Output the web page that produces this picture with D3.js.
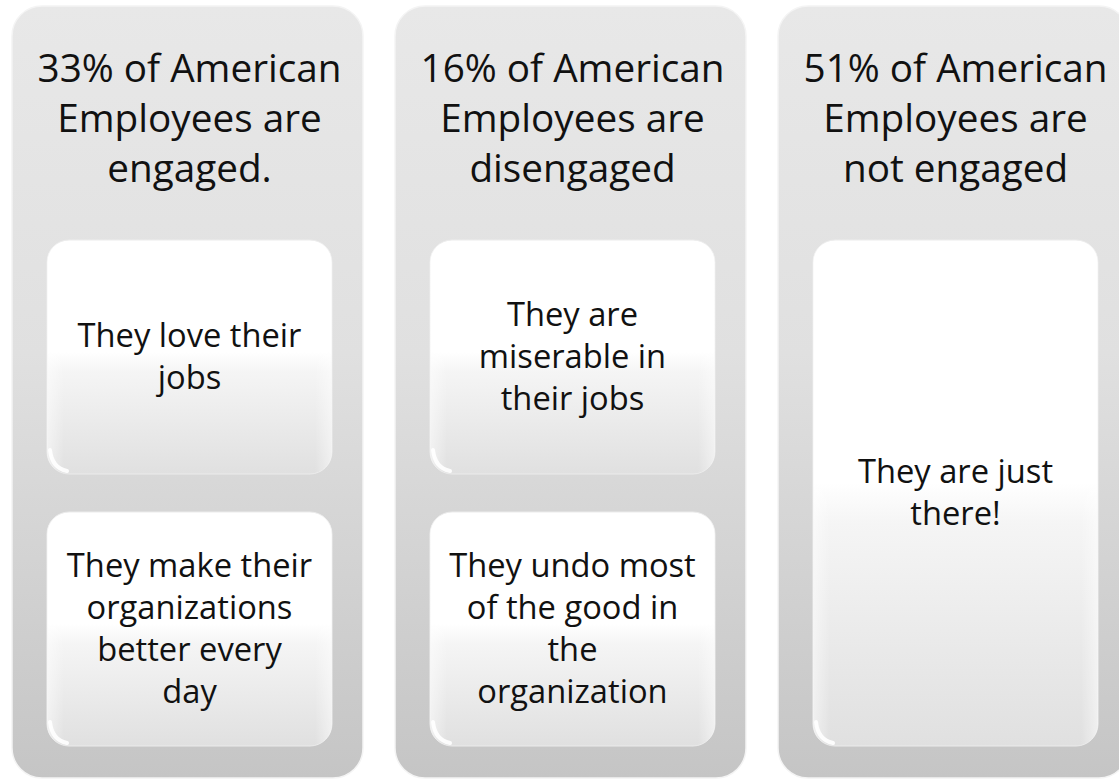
<!DOCTYPE html>
<html>
<head>
<meta charset="utf-8">
<script src="https://cdn.jsdelivr.net/npm/d3@7"></script>
<style>
  body { margin: 0; background: #ffffff; }
  svg { display: block; }
  .txt { font-family: "Open Sans", "Noto Sans", sans-serif; fill: #111111; }
</style>
</head>
<body>
<svg id="chart"></svg>
<script>
// share of employees per group
const percents = [33, 16, 51];
const headings = [
    ["33% of American", "Employees are", "engaged."],
    ["16% of American", "Employees are", "disengaged"],
    ["51% of American", "Employees are", "not engaged"]
];
// inner boxes (the last column has one tall box)
const details = [
    [["They love their", "jobs"], ["They make their", "organizations", "better every", "day"]],
    [["They are", "miserable in", "their jobs"], ["They undo most", "of the good in", "the", "organization"]],
    [["They are just", "there!"]]
];

const width = 1119, height = 780;
const svg = d3.select('#chart').attr('width', width).attr('height', height);
const defs = svg.append('defs');

// pick font sizes so that the widest reference lines keep about their width
function fitSize(str, target) {
    let t = svg.append('text').attr('class', 'txt').style('font-size', '100px').text(str);
    let w = t.node().getComputedTextLength();
    t.remove();
    return 100 * target / w;
}
const headSize = fitSize("33% of American", 304);
const bodySize = fitSize("They love their", 224);

let og = defs.append('linearGradient').attr('id', 'outerGrad')
    .attr('x1', 0).attr('y1', 0).attr('x2', 0).attr('y2', 1);
og.append('stop').attr('offset', '0%').attr('stop-color', '#e8e8e8');
og.append('stop').attr('offset', '45%').attr('stop-color', '#e0e0e0');
og.append('stop').attr('offset', '100%').attr('stop-color', '#c5c5c5');

let ig = defs.append('linearGradient').attr('id', 'innerGrad')
    .attr('x1', 0).attr('y1', 0).attr('x2', 0).attr('y2', 1);
ig.append('stop').attr('offset', '0%').attr('stop-color', '#ffffff');
ig.append('stop').attr('offset', '48%').attr('stop-color', '#ffffff');
ig.append('stop').attr('offset', '56%').attr('stop-color', '#f5f5f5');
ig.append('stop').attr('offset', '100%').attr('stop-color', '#e0e0e0');

let sg = defs.append('linearGradient').attr('id', 'sideGrad')
    .attr('x1', 0).attr('y1', 0).attr('x2', 1).attr('y2', 0);
sg.append('stop').attr('offset', '0%').attr('stop-color', '#ffffff').attr('stop-opacity', 0.5);
sg.append('stop').attr('offset', '6%').attr('stop-color', '#ffffff').attr('stop-opacity', 0);
sg.append('stop').attr('offset', '94%').attr('stop-color', '#ffffff').attr('stop-opacity', 0);
sg.append('stop').attr('offset', '100%').attr('stop-color', '#ffffff').attr('stop-opacity', 0.5);

const xScale = d3.scaleBand()
    .domain(percents)
    .range([12, 1129])
    .paddingInner(0.0836);

const colTop = 6, colBottom = 778;
const padL = 35, padR = 31;
const innerTop = 240, innerBottom = 746, innerGap = 38;

const yHead = d3.scaleLinear().domain([0, 2]).range([82, 182]);

const cols = svg.selectAll('g.col')
    .data(percents)
    .join('g')
    .attr('class', 'col')
    .attr('transform', d => `translate(${xScale(d)},0)`);

cols.append('rect')
    .attr('y', colTop)
    .attr('width', xScale.bandwidth())
    .attr('height', colBottom - colTop)
    .attr('rx', 30)
    .attr('fill', 'url(#outerGrad)')
    .attr('stroke', '#f4f4f4')
    .attr('stroke-width', 1.5);

cols.each(function(d, i) {
    let g = d3.select(this);
    let bw = xScale.bandwidth();

    g.selectAll('text.head')
        .data(headings[i])
        .join('text')
        .attr('class', 'txt head')
        .attr('x', bw / 2 + 2)
        .attr('y', (t, j) => yHead(j))
        .attr('text-anchor', 'middle')
        .style('font-size', headSize + 'px')
        .text(t => t);

    let boxes = details[i];
    let boxH = (innerBottom - innerTop - innerGap * (boxes.length - 1)) / boxes.length;

    boxes.forEach(function(lines, k) {
        let by = innerTop + k * (boxH + innerGap);
        let bx = padL, bwid = bw - padL - padR;
        g.append('rect')
            .attr('x', bx).attr('y', by)
            .attr('width', bwid).attr('height', boxH)
            .attr('rx', 22)
            .attr('fill', 'url(#innerGrad)')
            .attr('stroke', '#ececec')
            .attr('stroke-width', 1);
        g.append('rect')
            .attr('x', bx).attr('y', by)
            .attr('width', bwid).attr('height', boxH)
            .attr('rx', 22)
            .attr('fill', 'url(#sideGrad)');
        // little gloss at the bottom-left corner
        g.append('path')
            .attr('d', `M${bx + 3},${by + boxH - 24} Q${bx + 5},${by + boxH - 6} ${bx + 20},${by + boxH - 3}`)
            .attr('fill', 'none')
            .attr('stroke', '#ffffff')
            .attr('stroke-width', 4)
            .attr('stroke-linecap', 'round')
            .attr('opacity', 0.9);

        let lh = 42;
        let cy = by + boxH / 2;
        let first = cy - (lines.length - 1) * lh / 2 + 11;
        g.selectAll(null)
            .data(lines)
            .join('text')
            .attr('class', 'txt')
            .attr('x', bx + bwid / 2)
            .attr('y', (t, j) => first + j * lh)
            .attr('text-anchor', 'middle')
            .style('font-size', bodySize + 'px')
            .text(t => t);
    });
});
</script>
</body>
</html>
